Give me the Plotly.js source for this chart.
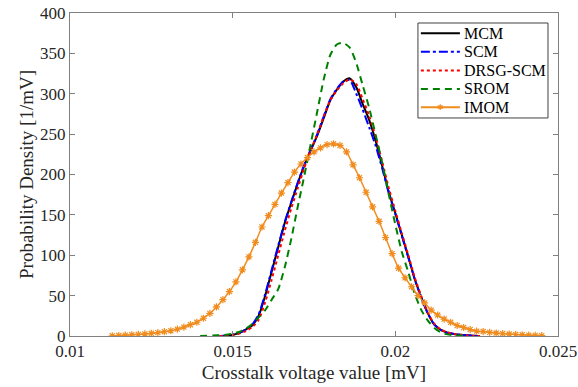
<!DOCTYPE html>
<html>
<head>
<meta charset="utf-8">
<script src="https://cdn.plot.ly/plotly-3.0.1.min.js"></script>
<style>html,body{margin:0;padding:0;background:#fff;}#chart{width:578px;height:387px;}</style>
</head>
<body>
<div id="chart"></div>
<script>
// Shared x grid for MCM / SCM / DRSG-SCM
const xMain = [0.0146,0.0148,0.0150,0.0152,0.0154,0.0156,0.0158,0.0160,0.0162,0.0164,0.0166,0.0168,0.0170,0.0172,0.0174,0.0176,0.0178,0.0180,0.0182,0.0184,0.0186,0.0188,0.0190,0.0192,0.0194,0.0196,0.0198,0.0200,0.0202,0.0204,0.0206,0.0208,0.0210,0.0212,0.0214,0.0216,0.0218,0.0220,0.0222,0.0224,0.0226];
const mcm = [0,0.3,1.5,3.5,8,13,25,50,80,110,140,165,189,211,230,248,270,292,305,315,319,308,287,267,241,210,178,152,125,98,70,48,28,14,7.5,4,2.5,1.5,0.8,0.3,0];
const scm = [0,0.5,1.5,4,8,14,27,52,82,112,141,166,190,212,231,250,272,293,306,315,317,300,280,258,235,207,177,151,124,97,70,47,28,14,7.5,4,2.5,1.5,0.8,0.3,0];
const drsg = [0,0.3,1,3,6,11,20,42,70,100,130,158,183,208,230,250,272,292,304,313,318,312,293,272,246,215,183,155,127,100,72,49,29,15,8,4.5,2.5,1.5,0.8,0.3,0];

const xSrom = [0.0140,0.0142,0.0144,0.0146,0.0148,0.0150,0.0152,0.0154,0.0156,0.0158,0.0160,0.0162,0.0164,0.0166,0.0168,0.0170,0.0172,0.0174,0.0176,0.0178,0.0180,0.0182,0.0184,0.0186,0.0188,0.0190,0.0192,0.0194,0.0196,0.0198,0.0200,0.0202,0.0204,0.0206,0.0208,0.0210,0.0212,0.0214,0.0216,0.0218,0.0220,0.0222];
const srom = [0,0.3,0.6,1,1.5,3,5,9,15,23,32,45,58,85,120,160,198,238,278,318,348,361,363,357,338,310,282,248,214,175,138,104,79,52,32,19,10,4.5,2,1,0.5,0];

const xImom = [0.0113,0.0115,0.0117,0.0119,0.0121,0.0123,0.0125,0.0127,0.0129,0.0131,0.0133,0.0135,0.0137,0.0139,0.0141,0.0143,0.0145,0.0147,0.0149,0.0151,0.0153,0.0155,0.0157,0.0159,0.0161,0.0163,0.0165,0.0167,0.0169,0.0171,0.0173,0.0175,0.0177,0.0179,0.0181,0.0183,0.0185,0.0187,0.0189,0.0191,0.0193,0.0195,0.0197,0.0199,0.0201,0.0203,0.0205,0.0207,0.0209,0.0211,0.0213,0.0215,0.0217,0.0219,0.0221,0.0223,0.0225,0.0227,0.0229,0.0231,0.0233,0.0235,0.0237,0.0239,0.0241,0.0243,0.0245];
const imom = [0.3,0.6,1.0,1.5,2,2.6,3.3,4.2,5.3,6.5,8.5,11,14,17,22,28,36,45,55,67,82,98,116,135,149,163,177,190,203,213,221,228,233,237,238,236,228,212,196,178,160,142,122,102,84,72,61,50,41,32,26,21,17,13,10.5,8,6,5.5,4.5,3.6,3,2.4,1.9,1.5,1.1,0.8,0.5];

const seriesNames = ['MCM','SCM','DRSG-SCM','SROM','IMOM'];
const seriesColors = ['#000000','#0000FF','#FF0000','#008000','#F08C1E'];
const seriesDash = ['solid','dashdot','dot','7px,5px','solid'];
const xTicks = [0.01,0.015,0.02,0.025];
const xTickText = ['0.01','0.015','0.02','0.025'];
const yTicks = [0,50,100,150,200,250,300,350,400];

const font = 'Liberation Serif, Times New Roman, serif';
const orange = seriesColors[4];

const ys = [mcm, scm, drsg, srom, imom];
const xs = [xMain, xMain, xMain, xSrom, xImom];
const traces = ys.map((y, i) => {
  const t = {
    x: xs[i], y: y, name: seriesNames[i], showlegend: false,
    mode: i === 4 ? 'lines+markers' : 'lines',
    line: {color: seriesColors[i], width: i === 4 ? 1.5 : 2, dash: seriesDash[i], shape: 'spline', smoothing: 0.6}
  };
  if (i === 4) t.marker = {symbol: 'asterisk-open', size: 6, color: orange, line: {color: orange, width: 1.2}};
  return t;
});

// Hand-built legend box (matches the compact MATLAB legend)
const legX0 = 0.713, legX1 = 0.9795, legY0 = 0.675, legY1 = 0.969;
const rowY = [0.937, 0.880, 0.822, 0.765, 0.708];
const sampleX0 = 0.719, sampleX1 = 0.799, textX = 0.803;
const shapes = [{type:'rect', xref:'paper', yref:'paper', x0:legX0, x1:legX1, y0:legY0, y1:legY1,
  line:{color:'#404040', width:1}, fillcolor:'#ffffff', layer:'above'}];
const annotations = [];
seriesNames.forEach((n, i) => {
  shapes.push({type:'line', xref:'paper', yref:'paper', x0:sampleX0, x1:sampleX1, y0:rowY[i], y1:rowY[i],
    line:{color:seriesColors[i], width:2, dash:seriesDash[i]}, layer:'above'});
  annotations.push({xref:'paper', yref:'paper', x:textX, y:rowY[i], xanchor:'left', yanchor:'middle',
    text:n, showarrow:false, font:{family:font, size:16, color:'#000'}});
});
annotations.push({xref:'paper', yref:'paper', x:(sampleX0+sampleX1)/2, y:rowY[4], xanchor:'center', yanchor:'middle',
  text:'✱', showarrow:false, font:{family:'DejaVu Sans', size:8, color:orange}});

const axisCommon = {
  showgrid:false, zeroline:false, showline:true, linecolor:'#808080', linewidth:1,
  mirror:'ticks', ticks:'inside', ticklen:5, tickcolor:'#808080',
  tickfont:{family:font, size:17, color:'#262626'}
};

const layout = {
  width:578, height:387,
  margin:{l:70, r:20, t:13, b:51},
  paper_bgcolor:'#fff', plot_bgcolor:'#fff',
  font:{family:font, size:17, color:'#262626'},
  xaxis:Object.assign({}, axisCommon, {range:[0.01,0.025], tickvals:xTicks, ticktext:xTickText,
    title:{text:'Crosstalk voltage value [mV]', font:{family:font, size:19, color:'#262626'}, standoff:5}}),
  yaxis:Object.assign({}, axisCommon, {range:[0,400], tickvals:yTicks,
    title:{text:'Probability Density [1/mV]', font:{family:font, size:19, color:'#262626'}, standoff:1}}),
  showlegend:false,
  shapes:shapes,
  annotations:annotations
};

Plotly.newPlot('chart', traces, layout, {displayModeBar:false, staticPlot:true});
</script>
</body>
</html>
